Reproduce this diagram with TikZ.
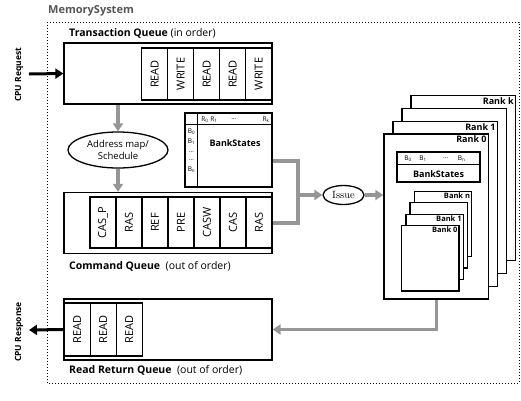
\documentclass[tikz,border=0pt]{standalone}
\usepackage{fontspec}
\setsansfont{Open Sans}
\usetikzlibrary{shapes.geometric,arrows.meta}
\definecolor{linkgray}{RGB}{150,150,150}
\definecolor{titlegray}{RGB}{85,85,85}
\tikzstyle{queue} = [rectangle, draw=black, line width=1.3pt, minimum width=208pt, minimum height=61pt, inner sep=0pt]
\tikzstyle{cell} = [rectangle, draw=black, line width=1.3pt, minimum width=52pt, minimum height=26pt, inner sep=0pt, rotate=90, font=\sffamily\fontsize{11}{12}\selectfont]
\tikzstyle{table} = [rectangle, draw=black, line width=1.3pt, fill=white, inner sep=0pt]
\tikzstyle{rankbox} = [table, minimum width=104.7pt, minimum height=165pt]
\tikzstyle{bankbox} = [table, minimum width=57.3pt, minimum height=65.3pt]
\tikzstyle{rlabel} = [anchor=north east, inner sep=2.5pt, font=\sffamily\bfseries\fontsize{9}{10}\selectfont]
\tikzstyle{blabel} = [anchor=north east, inner sep=2pt, font=\sffamily\bfseries\fontsize{7.5}{9}\selectfont]
\tikzstyle{tiny} = [inner sep=0pt, font=\sffamily\fontsize{6.5}{7}\selectfont]
\tikzstyle{title} = [anchor=west, inner sep=0pt, font=\sffamily\fontsize{10.5}{12}\selectfont]
\tikzstyle{cpu} = [inner sep=0pt, rotate=90, font=\sffamily\bfseries\fontsize{8.5}{10}\selectfont]
\tikzstyle{garrow} = [draw=linkgray, line width=3.5pt, -{Triangle[length=8pt,width=10pt]}]
\tikzstyle{gline} = [draw=linkgray, line width=3.5pt]
\tikzstyle{barrow} = [draw=black, line width=3pt, -{Triangle[length=8pt,width=10pt]}]

\begin{document}
\begin{tikzpicture}[x=1pt, y=-1pt]
\useasboundingbox (0,0) rectangle (521,400);
\draw[dotted, line width=1pt] (47,22) rectangle (519,383);
\node (MemTitle)[anchor=west, inner sep=0pt, text=titlegray, font=\sffamily\bfseries\fontsize{11}{12}\selectfont] at (48,11) {MemorySystem};

% transaction queue
\node (TransTitle)[title] at (69,33) {\textbf{Transaction Queue} (in order)};
\node (TransQueue)[queue] at (168,73.5) {};
\foreach \i/\cmd in {0/READ,1/WRITE,2/READ,3/READ,4/WRITE}
  \node (Trans\i)[cell] at ({154.7+26*\i},74) {\cmd};

\node (AddrMap)[ellipse, draw, line width=1.3pt, minimum width=100pt, minimum height=36pt, inner sep=0pt, align=center, font=\sffamily\fontsize{9.5}{12}\selectfont] at (118,150) {Address map/\\Schedule};

% bank states table
\node (BankTable)[table, minimum width=87pt, minimum height=74pt] at (228.5,150) {};
\draw[line width=1pt] ([yshift=-12pt]BankTable.north west) -- ([yshift=-12pt]BankTable.north east);
\draw[line width=1pt] ([xshift=13pt]BankTable.north west) -- ([xshift=13pt]BankTable.south west);
\foreach \x/\r in {205/R\textsubscript{0}, 214/R\textsubscript{1}, 234/{\ldots}, 266/R\textsubscript{k}}
  \node[tiny] at (\x,119.5) {\r};
\foreach \y/\b in {131.7/B\textsubscript{0}, 141.7/B\textsubscript{1}, 151.7/{\ldots}, 160/{\ldots}, 170/B\textsubscript{n}}
  \node[tiny] at (191.5,\y) {\b};
\node (BankTableLabel)[inner sep=0pt, font=\sffamily\bfseries\fontsize{9}{10}\selectfont] at (235,143) {BankStates};

% command queue
\node (CmdQueue)[queue] at (168,223) {};
\foreach \i/\cmd in {0/CAS\_P,1/RAS,2/REF,3/PRE,4/CASW,5/CAS,6/RAS}
  \node (Cmd\i)[cell, minimum width=51pt] at ({103+26*\i},222.5) {\cmd};
\node (CmdTitle)[title] at (69,266) {\textbf{Command Queue}\ \ (out of order)};

% read return queue
\node (ReturnQueue)[queue] at (168,329.5) {};
\foreach \i in {0,1,2}
  \node (Ret\i)[cell, minimum width=53pt] at ({77.3+26*\i},329.5) {READ};
\node (ReturnTitle)[title] at (69,370) {\textbf{Read Return Queue}\ \ (out of order)};

% ranks and banks
\foreach \i/\lab in {3/Rank k,2/,1/Rank 1,0/Rank 0}
  \node (Rank\i)[rankbox, label={[rlabel]north east:\lab}] at ({436.3+9*\i},{216.5-12.8*\i}) {};
\node (RankStates)[table, minimum width=83pt, minimum height=30pt] at (438.5,167) {};
\draw[line width=1pt] ([yshift=-13pt]RankStates.north west) -- ([yshift=-13pt]RankStates.north east);
\foreach \x/\b in {408/B\textsubscript{0}, 423/B\textsubscript{1}, 445.7/{\ldots}, 461.7/B\textsubscript{n}}
  \node[tiny] at (\x,158.5) {\b};
\node (RankStatesLabel)[inner sep=0pt, font=\sffamily\bfseries\fontsize{9}{10}\selectfont] at (438.5,174) {BankStates};
\foreach \i/\lab in {3/Bank n,2/,1/Bank 1,0/Bank 0}
  \node (Bank\i)[bankbox, label={[blabel]north east:\lab}] at ({430.3+4.2*\i},{258.3-11.5*\i}) {};

\node (Issue)[ellipse, draw, line width=1.3pt, minimum width=41pt, minimum height=19pt, inner sep=0pt, font=\rmfamily\fontsize{10.5}{12}\selectfont] at (343.5,195) {Issue};

% cpu side
\node (CpuReq)[cpu] at (19,75) {CPU Request};
\node (CpuResp)[cpu] at (19,332) {CPU Response};
\coordinate (CpuIn) at (29,74);
\coordinate (CpuOut) at (29,330);
\draw[barrow] (CpuIn) -- (TransQueue.west);
\draw[barrow] (ReturnQueue.west) -- (CpuOut);

% connectors
\coordinate (IssueJoin) at (298,195);
\draw[garrow] (AddrMap.north |- TransQueue.south) -- (AddrMap.north);
\draw[garrow] (AddrMap.south) -- (AddrMap.south |- CmdQueue.north);
\draw[gline] ([yshift=-11pt]BankTable.east) -| (IssueJoin) |- (CmdQueue.east);
\draw[garrow] (IssueJoin) -- (Issue.west);
\draw[garrow] (Issue.east) -- (Issue.east -| Rank0.west);
\draw[garrow] (Rank0.south) |- (ReturnQueue.east);
\end{tikzpicture}
\end{document}
